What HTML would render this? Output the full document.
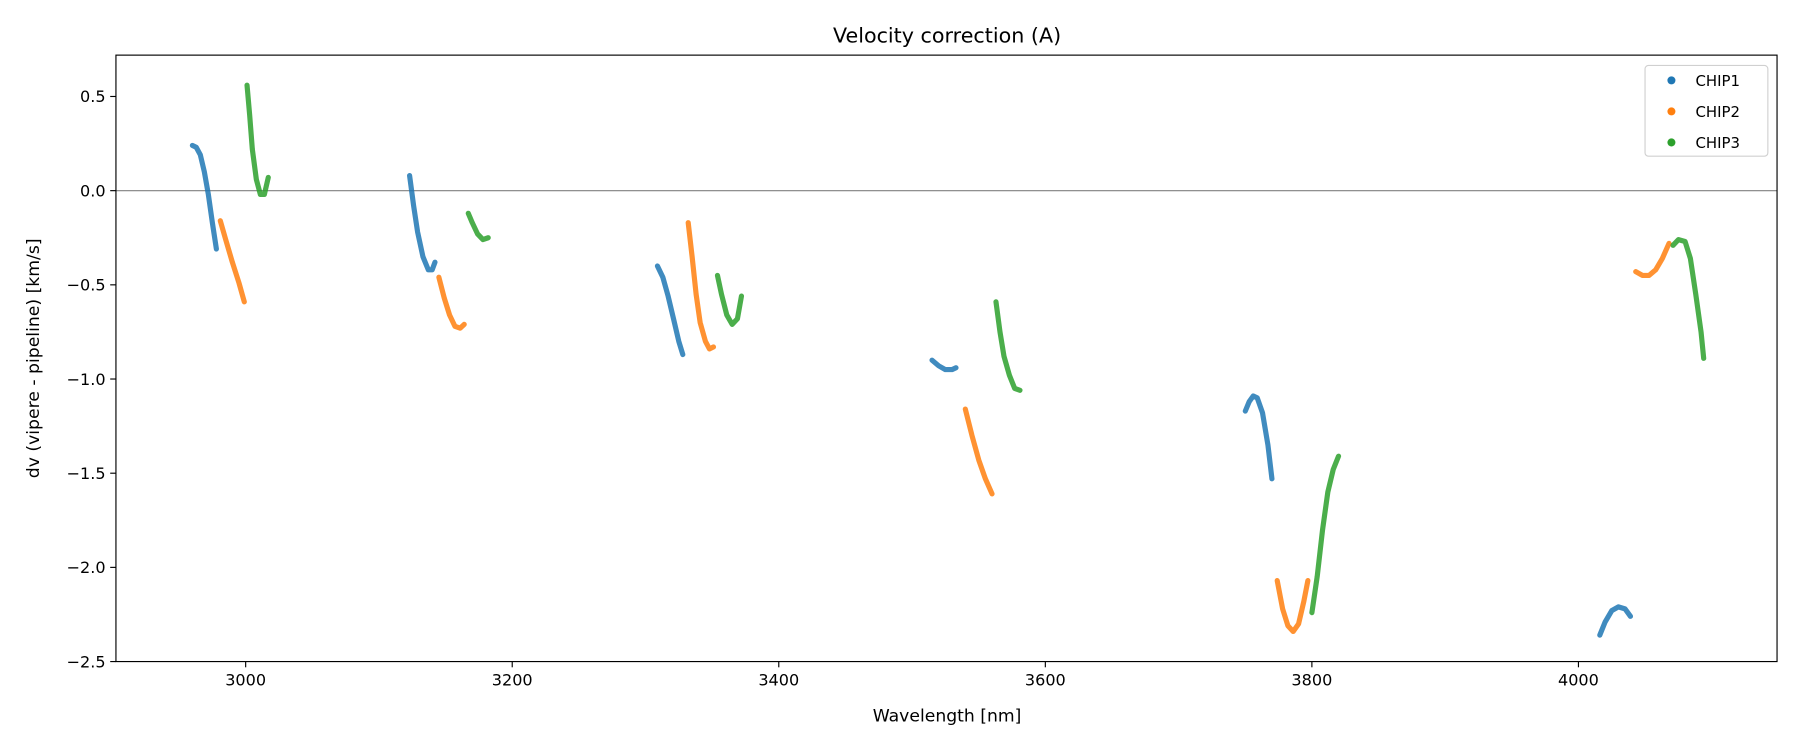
<!DOCTYPE html>
<html><head><meta charset="utf-8"><style>
html,body{margin:0;padding:0;background:#fff}
svg{display:block;font-family:"DejaVu Sans","Liberation Sans",sans-serif}
</style></head><body>
<svg id="chart" width="1800" height="750" viewBox="0 0 1568 653" preserveAspectRatio="none">
<rect width="1568" height="653" fill="#fff"/>
<text x="825" y="37" font-size="18" text-anchor="middle">Velocity correction (A)</text>
<g id="grid"></g>
<g id="marks"></g>
<rect x="101" y="48" width="1447" height="528" fill="none" stroke="#000" stroke-width="1"/>
<g id="axes"></g>
<text x="825" y="628" font-size="15" text-anchor="middle">Wavelength [nm]</text>
<text transform="translate(34,312) rotate(-90)" font-size="15" text-anchor="middle">dv (vipere - pipeline) [km/s]</text>
<g>
<rect x="1433" y="57" width="107" height="79" rx="3" fill="#fff" stroke="#ccc" opacity="0.9"/>
<g id="legend"></g>
</g>
</svg>
<script>
const xTicks=[3000,3200,3400,3600,3800,4000];
const yTicks=[0.5,0.0,-0.5,-1.0,-1.5,-2.0,-2.5];
const seriesNames=["CHIP1","CHIP2","CHIP3"];
const seriesColors=["#1f77b4","#ff7f0e","#2ca02c"];
const chip1=[
[[2960,0.24],[2963,0.23],[2966,0.19],[2969,0.10],[2972,-0.02],[2975,-0.17],[2978,-0.31]],
[[3123,0.08],[3126,-0.08],[3129,-0.22],[3133,-0.35],[3137,-0.42],[3140,-0.42],[3142,-0.38]],
[[3309,-0.40],[3313,-0.46],[3317,-0.56],[3321,-0.68],[3325,-0.80],[3328,-0.87]],
[[3515,-0.90],[3520,-0.93],[3525,-0.95],[3530,-0.95],[3533,-0.94]],
[[3750,-1.17],[3753,-1.12],[3756,-1.09],[3759,-1.10],[3763,-1.18],[3767,-1.35],[3770,-1.53]],
[[4016,-2.36],[4020,-2.29],[4025,-2.23],[4030,-2.21],[4035,-2.22],[4039,-2.26]]];
const chip2=[
[[2981,-0.16],[2985,-0.26],[2990,-0.38],[2995,-0.49],[2999,-0.59]],
[[3145,-0.46],[3149,-0.57],[3153,-0.66],[3157,-0.72],[3161,-0.73],[3164,-0.71]],
[[3332,-0.17],[3335,-0.35],[3338,-0.55],[3341,-0.70],[3345,-0.80],[3348,-0.84],[3351,-0.83]],
[[3540,-1.16],[3545,-1.30],[3550,-1.43],[3555,-1.53],[3560,-1.61]],
[[3774,-2.07],[3778,-2.22],[3782,-2.31],[3786,-2.34],[3790,-2.30],[3794,-2.18],[3797,-2.07]],
[[4043,-0.43],[4048,-0.45],[4053,-0.45],[4058,-0.42],[4063,-0.36],[4068,-0.28]]];
const chip3=[
[[3001,0.56],[3003,0.40],[3005,0.22],[3008,0.06],[3011,-0.02],[3014,-0.02],[3017,0.07]],
[[3167,-0.12],[3170,-0.17],[3174,-0.23],[3178,-0.26],[3182,-0.25]],
[[3354,-0.45],[3357,-0.55],[3361,-0.66],[3365,-0.71],[3369,-0.68],[3372,-0.56]],
[[3563,-0.59],[3566,-0.75],[3569,-0.88],[3573,-0.98],[3577,-1.05],[3581,-1.06]],
[[3800,-2.24],[3804,-2.05],[3808,-1.80],[3812,-1.60],[3816,-1.48],[3820,-1.41]],
[[4071,-0.29],[4075,-0.26],[4080,-0.27],[4084,-0.36],[4088,-0.55],[4092,-0.75],[4094,-0.89]]];
const allSeries=[chip1,chip2,chip3];

const NS="http://www.w3.org/2000/svg";
function xs(v){return 214+(v-3000)*1.161;}
function ys(v){return 166-v*164;}
function mk(tag,attrs,parent){const e=document.createElementNS(NS,tag);for(const k in attrs)e.setAttribute(k,attrs[k]);parent.appendChild(e);return e;}
const grid=document.getElementById('grid'),axes=document.getElementById('axes'),marks=document.getElementById('marks'),legend=document.getElementById('legend');
const zl=mk('line',{x1:101,x2:1548,y1:ys(0),y2:ys(0),stroke:'#808080','stroke-width':1},grid);


xTicks.forEach(t=>{
 const x=xs(t);
 mk('line',{x1:x,x2:x,y1:576,y2:581,stroke:'#000'},axes);
 const tx=mk('text',{x:x,y:597,'font-size':14,'text-anchor':'middle'},axes);
 tx.textContent=t;
 
 
});
yTicks.forEach(t=>{
 const y=ys(t);
 mk('line',{x1:96,x2:101,y1:y,y2:y,stroke:'#000'},axes);
 const tx=mk('text',{x:92,y:y+5,'font-size':14,'text-anchor':'end'},axes);
 tx.textContent=t.toFixed(1).replace('-','\u2212');
 
 
});
allSeries.forEach((segs,si)=>{
 const g=mk('g',{},marks);
 
 
 segs.forEach(seg=>{
  const pts=seg.map(p=>xs(p[0]).toFixed(1)+','+ys(p[1]).toFixed(1)).join(' ');
  const pl=mk('polyline',{points:pts,fill:'none',stroke:seriesColors[si],'stroke-width':4.5,'stroke-linecap':'round','stroke-linejoin':'round',opacity:0.85},g);
  
  
 });
});
seriesNames.forEach((n,i)=>{
 const y=70+i*27;
 const c=mk('circle',{cx:1456,cy:y,r:3.5,fill:seriesColors[i]},legend);
 
 
 const t=mk('text',{x:1477,y:y+5,'font-size':13},legend);
 t.textContent=n;
 
 
});
</script>
</body></html>
